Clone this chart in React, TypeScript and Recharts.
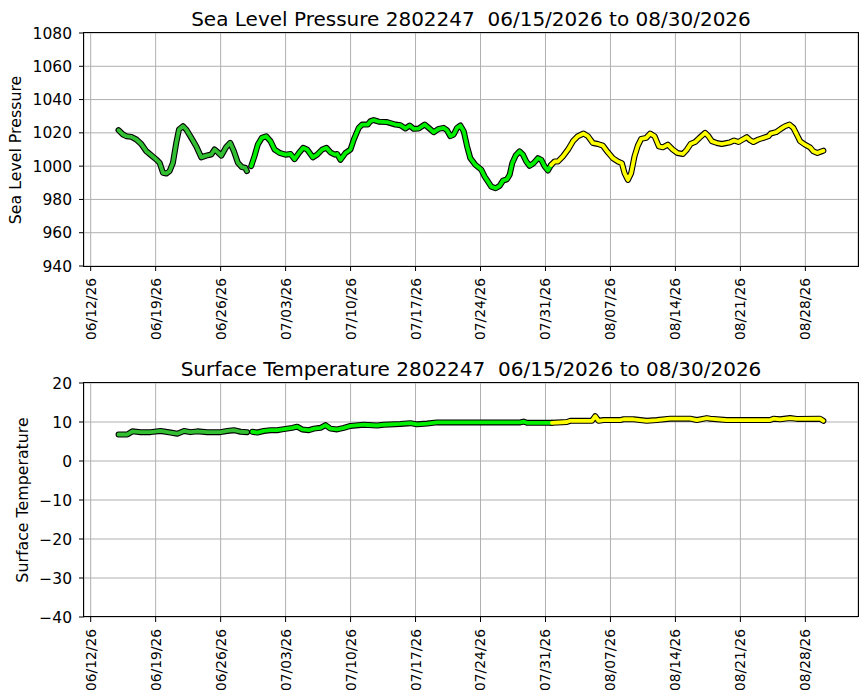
import React from "react";
import { CartesianGrid, Line, LineChart, XAxis, YAxis } from "recharts";

// x positions are days since 06/12/2026
const tickDays = [0, 7, 14, 21, 28, 35, 42, 49, 56, 63, 70, 77];
const tickLabels = [
  "06/12/26", "06/19/26", "06/26/26", "07/03/26", "07/10/26", "07/17/26",
  "07/24/26", "07/31/26", "08/07/26", "08/14/26", "08/21/26", "08/28/26",
];

const pressureTicks = [940, 960, 980, 1000, 1020, 1040, 1060, 1080];
const tempTicks = [-40, -30, -20, -10, 0, 10, 20];

const pressureDays = [
  3.0, 3.48, 3.84, 4.38, 4.92, 5.45, 5.99, 6.53, 7.07, 7.43,
  7.79, 8.15, 8.50, 8.86, 9.22, 9.51, 9.94, 10.30, 10.84, 11.37,
  11.91, 12.45, 12.99, 13.35, 13.71, 14.07, 14.60, 15.03, 15.43, 15.86,
  16.29, 16.65, 16.83, 17.29, 17.65, 18.01, 18.44, 18.91, 19.38, 19.81,
  20.34, 20.99, 21.53, 21.96, 22.43, 22.89, 23.32, 23.93, 24.40, 24.94,
  25.40, 25.83, 26.30, 26.55, 26.91, 27.45, 27.99, 28.35, 28.88, 29.24,
  29.85, 30.14, 30.50, 31.04, 31.93, 32.83, 33.37, 33.91, 34.37, 34.80,
  35.34, 35.99, 36.42, 36.96, 37.50, 38.03, 38.39, 38.75, 39.11, 39.47,
  39.83, 40.19, 40.55, 40.90, 41.44, 42.09, 42.45, 42.81, 43.16, 43.63,
  44.06, 44.42, 44.85, 45.14, 45.42, 45.78, 46.21, 46.57, 46.93, 47.29,
  47.72, 48.19, 48.55, 48.91, 49.26, 49.62, 49.98, 50.34, 50.88, 51.42,
  51.96, 52.49, 53.10, 53.57, 54.11, 54.65, 55.18, 55.72, 56.26, 56.80,
  57.23, 57.52, 57.88, 58.23, 58.59, 58.95, 59.31, 59.85, 60.28, 60.75,
  61.21, 61.64, 62.18, 62.72, 63.22, 63.80, 64.23, 64.66, 65.12, 65.59,
  66.20, 66.56, 66.92, 67.46, 67.99, 68.53, 68.89, 69.32, 69.79, 70.25,
  70.69, 71.04, 71.40, 71.94, 72.48, 73.02, 73.27, 73.84, 74.35, 74.81,
  75.28, 75.71, 76.07, 76.43, 76.96, 77.50, 77.86, 78.29, 78.76, 78.94,
];
const pressureValues = [
  1021.6, 1019.0, 1018.0, 1017.6, 1016.0, 1013.3, 1009.0, 1006.5, 1004.0, 1002.0,
  996.0, 995.6, 997.0, 1002.0, 1014.0, 1022.0, 1024.0, 1022.0, 1017.0, 1012.0,
  1005.3, 1006.3, 1007.0, 1010.0, 1008.3, 1006.3, 1011.5, 1014.0, 1009.0, 1002.0,
  999.4, 999.0, 997.0, 1000.0, 1006.0, 1013.0, 1017.0, 1018.0, 1015.0, 1010.0,
  1008.0, 1006.9, 1007.3, 1004.2, 1007.9, 1011.0, 1010.0, 1005.3, 1006.9, 1010.0,
  1011.0, 1008.3, 1006.9, 1007.3, 1003.8, 1007.9, 1010.0, 1016.0, 1023.0, 1025.0,
  1025.0, 1027.0, 1027.7, 1026.7, 1026.5, 1025.0, 1024.6, 1022.6, 1024.4, 1022.4,
  1022.6, 1025.0, 1023.0, 1020.4, 1022.4, 1023.0, 1021.6, 1018.0, 1019.0, 1023.0,
  1024.4, 1021.0, 1012.0, 1004.8, 1000.8, 997.8, 993.7, 990.7, 987.7, 986.7,
  988.1, 991.3, 992.1, 994.8, 1001.8, 1006.3, 1008.9, 1006.9, 1002.8, 1000.2,
  1001.8, 1004.8, 1003.8, 999.8, 997.4, 1000.8, 1002.8, 1002.8, 1005.9, 1009.9,
  1015.0, 1018.0, 1019.6, 1018.0, 1013.9, 1013.3, 1012.3, 1008.3, 1004.8, 1002.8,
  1001.8, 995.8, 991.7, 995.8, 1005.9, 1012.3, 1016.4, 1017.0, 1019.6, 1018.0,
  1011.9, 1011.3, 1012.9, 1009.9, 1007.9, 1007.3, 1009.9, 1013.5, 1014.5, 1017.0,
  1020.0, 1018.0, 1015.0, 1013.9, 1013.3, 1013.9, 1014.3, 1015.4, 1014.5, 1016.0,
  1017.4, 1015.6, 1014.5, 1016.0, 1017.0, 1018.0, 1019.6, 1020.4, 1022.4, 1024.0,
  1025.0, 1023.0, 1019.0, 1015.0, 1012.9, 1011.3, 1008.9, 1007.9, 1008.9, 1009.3,
];

const tempDays = [
  3.0, 3.95, 4.49, 5.38, 6.46, 7.53, 8.61, 9.33, 10.05, 10.76,
  11.48, 12.56, 13.99, 14.71, 15.43, 16.15, 16.86, 17.40, 17.94, 18.66,
  19.38, 20.09, 20.63, 21.17, 21.71, 22.25, 22.78, 23.50, 24.04, 24.76,
  25.30, 25.83, 26.55, 27.27, 27.99, 29.42, 30.86, 31.57, 33.37, 34.45,
  35.16, 36.24, 37.32, 41.98, 46.29, 46.64, 47.00, 49.70, 51.31, 51.67,
  54.00, 54.36, 54.72, 55.26, 57.05, 57.41, 58.49, 59.20, 59.92, 61.00,
  62.43, 64.59, 65.30, 66.38, 66.74, 68.53, 71.40, 73.20, 73.56, 74.27,
  75.35, 76.07, 78.58, 78.94,
];
const tempValues = [
  6.8, 6.8, 7.6, 7.4, 7.4, 7.7, 7.3, 7.0, 7.7, 7.4,
  7.6, 7.4, 7.4, 7.7, 7.9, 7.5, 7.4, 7.5, 7.3, 7.7,
  7.9, 7.9, 8.1, 8.3, 8.5, 8.8, 8.1, 7.9, 8.3, 8.5,
  9.2, 8.3, 8.1, 8.5, 9.0, 9.3, 9.1, 9.3, 9.5, 9.7,
  9.4, 9.6, 9.9, 9.9, 9.9, 10.1, 9.8, 9.8, 10.0, 10.3,
  10.3, 11.5, 10.3, 10.5, 10.5, 10.7, 10.7, 10.5, 10.3, 10.5,
  10.85, 10.85, 10.5, 11.0, 10.85, 10.5, 10.5, 10.5, 10.85, 10.7,
  11.0, 10.8, 10.85, 10.3,
];

const FONT = "'DejaVu Sans', sans-serif";
const X_DOMAIN: [number, number] = [-0.72, 82.67];

function DateTick(props: any) {
  const { x, y, payload } = props;
  const label = tickLabels[tickDays.indexOf(payload.value)];
  return (
    <g transform={`translate(${x},${y})`}>
      <text transform="rotate(-90)" x={-5} dy="0.36em" textAnchor="end" fontSize={13.8} fill="#000" fontFamily={FONT}>
        {label}
      </text>
    </g>
  );
}

function Panel({ top, title, yLabel, labelX, days, values, yDomain, yTicks, xAxisHeight }: any) {
  const rows = days.map((d: number, i: number) => ({ day: d, v: values[i] }));
  const segments: Array<[any[], string]> = [
    [rows.filter((r: any) => r.day < 17), "#32c032"],
    [rows.filter((r: any) => r.day >= 17 && r.day <= 49.7), "#00f000"],
    [rows.filter((r: any) => r.day >= 49.6), "#ffff00"],
  ];
  return (
    <div style={{ position: "absolute", left: 0, top, width: 867, height: 350, fontFamily: FONT }}>
      <div style={{ position: "absolute", left: 84, width: 774, top: 9, textAlign: "center", fontSize: 20, lineHeight: 1, whiteSpace: "pre" }}>
        {title}
      </div>
      <div
        style={{
          position: "absolute", left: labelX, top: 150, fontSize: 15.8, lineHeight: 1, whiteSpace: "nowrap",
          transform: "translate(-50%, -50%) rotate(-90deg)",
        }}
      >
        {yLabel}
      </div>
      <LineChart width={867} height={350} margin={{ top: 33, right: 9, bottom: 0, left: 0 }}>
        <CartesianGrid stroke="#b0b0b0" strokeWidth={1} />
        <XAxis
          type="number"
          dataKey="day"
          domain={X_DOMAIN}
          allowDataOverflow
          ticks={tickDays}
          interval={0}
          height={xAxisHeight}
          tickSize={5}
          tickLine={{ stroke: "#000" }}
          axisLine={false}
          tick={<DateTick />}
        />
        <YAxis
          type="number"
          domain={yDomain}
          allowDataOverflow
          ticks={yTicks}
          interval={0}
          width={84}
          tickSize={5}
          tickMargin={7}
          tickLine={{ stroke: "#000" }}
          axisLine={false}
          tick={{ fill: "#000", fontSize: 15.5, fontFamily: FONT }}
          tickFormatter={(v: number) => String(v).replace("-", "\u2212")}
        />
        {segments.map(([d], k) => (
          <Line key={"o" + k} data={d} dataKey="v" type="linear" stroke="#000" strokeWidth={6}
            strokeLinejoin="round" strokeLinecap="round" dot={false} isAnimationActive={false} />
        ))}
        {segments.map(([d, c], k) => (
          <Line key={"c" + k} data={d} dataKey="v" type="linear" stroke={c} strokeWidth={3.8}
            strokeLinejoin="round" strokeLinecap="round" dot={false} isAnimationActive={false} />
        ))}
      </LineChart>
      <div style={{ position: "absolute", left: 83, top: 32, width: 776, height: 235, border: "1px solid #000", boxSizing: "border-box", pointerEvents: "none" }} />
    </div>
  );
}

export default function App() {
  return (
    <div style={{ position: "absolute", left: 0, top: 0, width: 867, height: 700, background: "#fff" }}>
      <Panel
        top={0}
        title={"Sea Level Pressure 2802247  06/15/2026 to 08/30/2026"}
        yLabel="Sea Level Pressure"
        labelX={16}
        days={pressureDays}
        values={pressureValues}
        yDomain={[940, 1080]}
        yTicks={pressureTicks}
        xAxisHeight={84}
      />
      <Panel
        top={350}
        title={"Surface Temperature 2802247  06/15/2026 to 08/30/2026"}
        yLabel="Surface Temperature"
        labelX={23}
        days={tempDays}
        values={tempValues}
        yDomain={[-40, 20]}
        yTicks={tempTicks}
        xAxisHeight={83}
      />
    </div>
  );
}
